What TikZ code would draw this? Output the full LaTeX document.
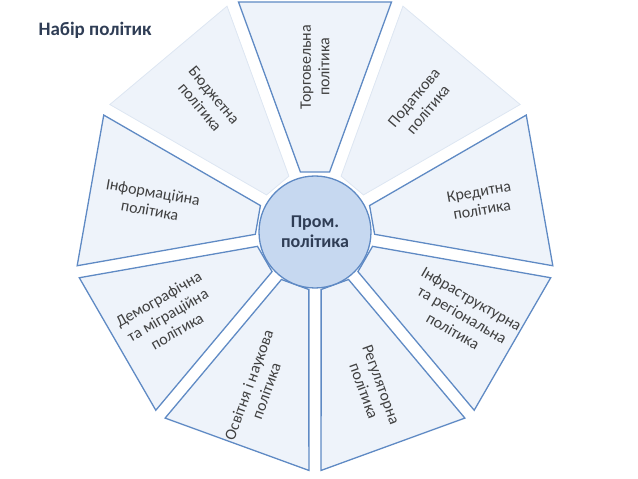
\documentclass[tikz,border=0pt]{standalone}
\usepackage{fontspec}
\setmainfont{Carlito}
\definecolor{segfill}{HTML}{EEF3FA}
\definecolor{segline}{HTML}{5F8AC4}
\definecolor{segpale}{HTML}{DDE6F2}
\definecolor{promfill}{HTML}{C6D8F0}
\definecolor{txtcol}{HTML}{404040}
\definecolor{titlecol}{HTML}{2F3D55}

\begin{document}
\begin{tikzpicture}[x=1pt, y=1pt,
  seg/.style={fill=segfill, draw=segline, line width=1.3pt},
  segfaint/.style={fill=segfill, draw=segpale, line width=0.8pt},
  lbl/.style={font=\fontsize{16}{18.5}\selectfont, text=txtcol, align=center, inner sep=1pt}]
\useasboundingbox (-315,-249) rectangle (323,230);

% segments
\draw[seg, rotate=90] (58,14.6) -- (228,76.5) -- (228,-76.5) -- (58,-14.6) -- cycle;
\draw[segfaint, rotate=50] (58,14.6) -- (228,76.5) -- (228,-76.5) -- (58,-14.6) -- cycle;
\draw[seg, rotate=10] (58,14.6) -- (228,76.5) -- (228,-76.5) -- (58,-14.6) -- cycle;
\draw[seg, rotate=-30] (58,14.6) -- (228,76.5) -- (228,-76.5) -- (58,-14.6) -- cycle;
\draw[seg, rotate=-70] (58,14.6) -- (228,76.5) -- (228,-76.5) -- (58,-14.6) -- cycle;
\draw[seg, rotate=-110] (58,14.6) -- (228,76.5) -- (228,-76.5) -- (58,-14.6) -- cycle;
\draw[seg, rotate=-150] (58,14.6) -- (228,76.5) -- (228,-76.5) -- (58,-14.6) -- cycle;
\draw[seg, rotate=170] (58,14.6) -- (228,76.5) -- (228,-76.5) -- (58,-14.6) -- cycle;
\draw[segfaint, rotate=130] (58,14.6) -- (228,76.5) -- (228,-76.5) -- (58,-14.6) -- cycle;

% labels
\node[lbl, rotate=90] (trade) at (90:163) {Торговельна\\політика};
\node[lbl, rotate=50] (tax) at (50:165) {Податкова\\політика};
\node[lbl, rotate=10] (credit) at (10:168) {Кредитна\\політика};
\node[lbl, rotate=-30] (infra) at (-30:170) {Інфраструктурна\\та регіональна\\політика};
\node[lbl, rotate=-70] (reg) at (-70:168) {Регуляторна\\політика};
\node[lbl, rotate=70] (edu) at (-110:168) {Освітня і наукова\\політика};
\node[lbl, rotate=30] (demo) at (-150:170) {Демографічна\\та міграційна\\політика};
\node[lbl, rotate=-10] (info) at (170:166) {Інформаційна\\політика};
\node[lbl, rotate=-50] (budget) at (130:168) {Бюджетна\\політика};

\node[circle, minimum size=112pt, fill=promfill, draw=segline, line width=1.3pt,
  font=\bfseries\fontsize{18}{20}\selectfont, text=titlecol, align=center] (prom) at (0,-2) {Пром.\\політика};

\node[anchor=west, font=\bfseries\fontsize{19}{22}\selectfont, text=titlecol] (title) at (-280,200) {Набір політик};
\end{tikzpicture}
\end{document}
